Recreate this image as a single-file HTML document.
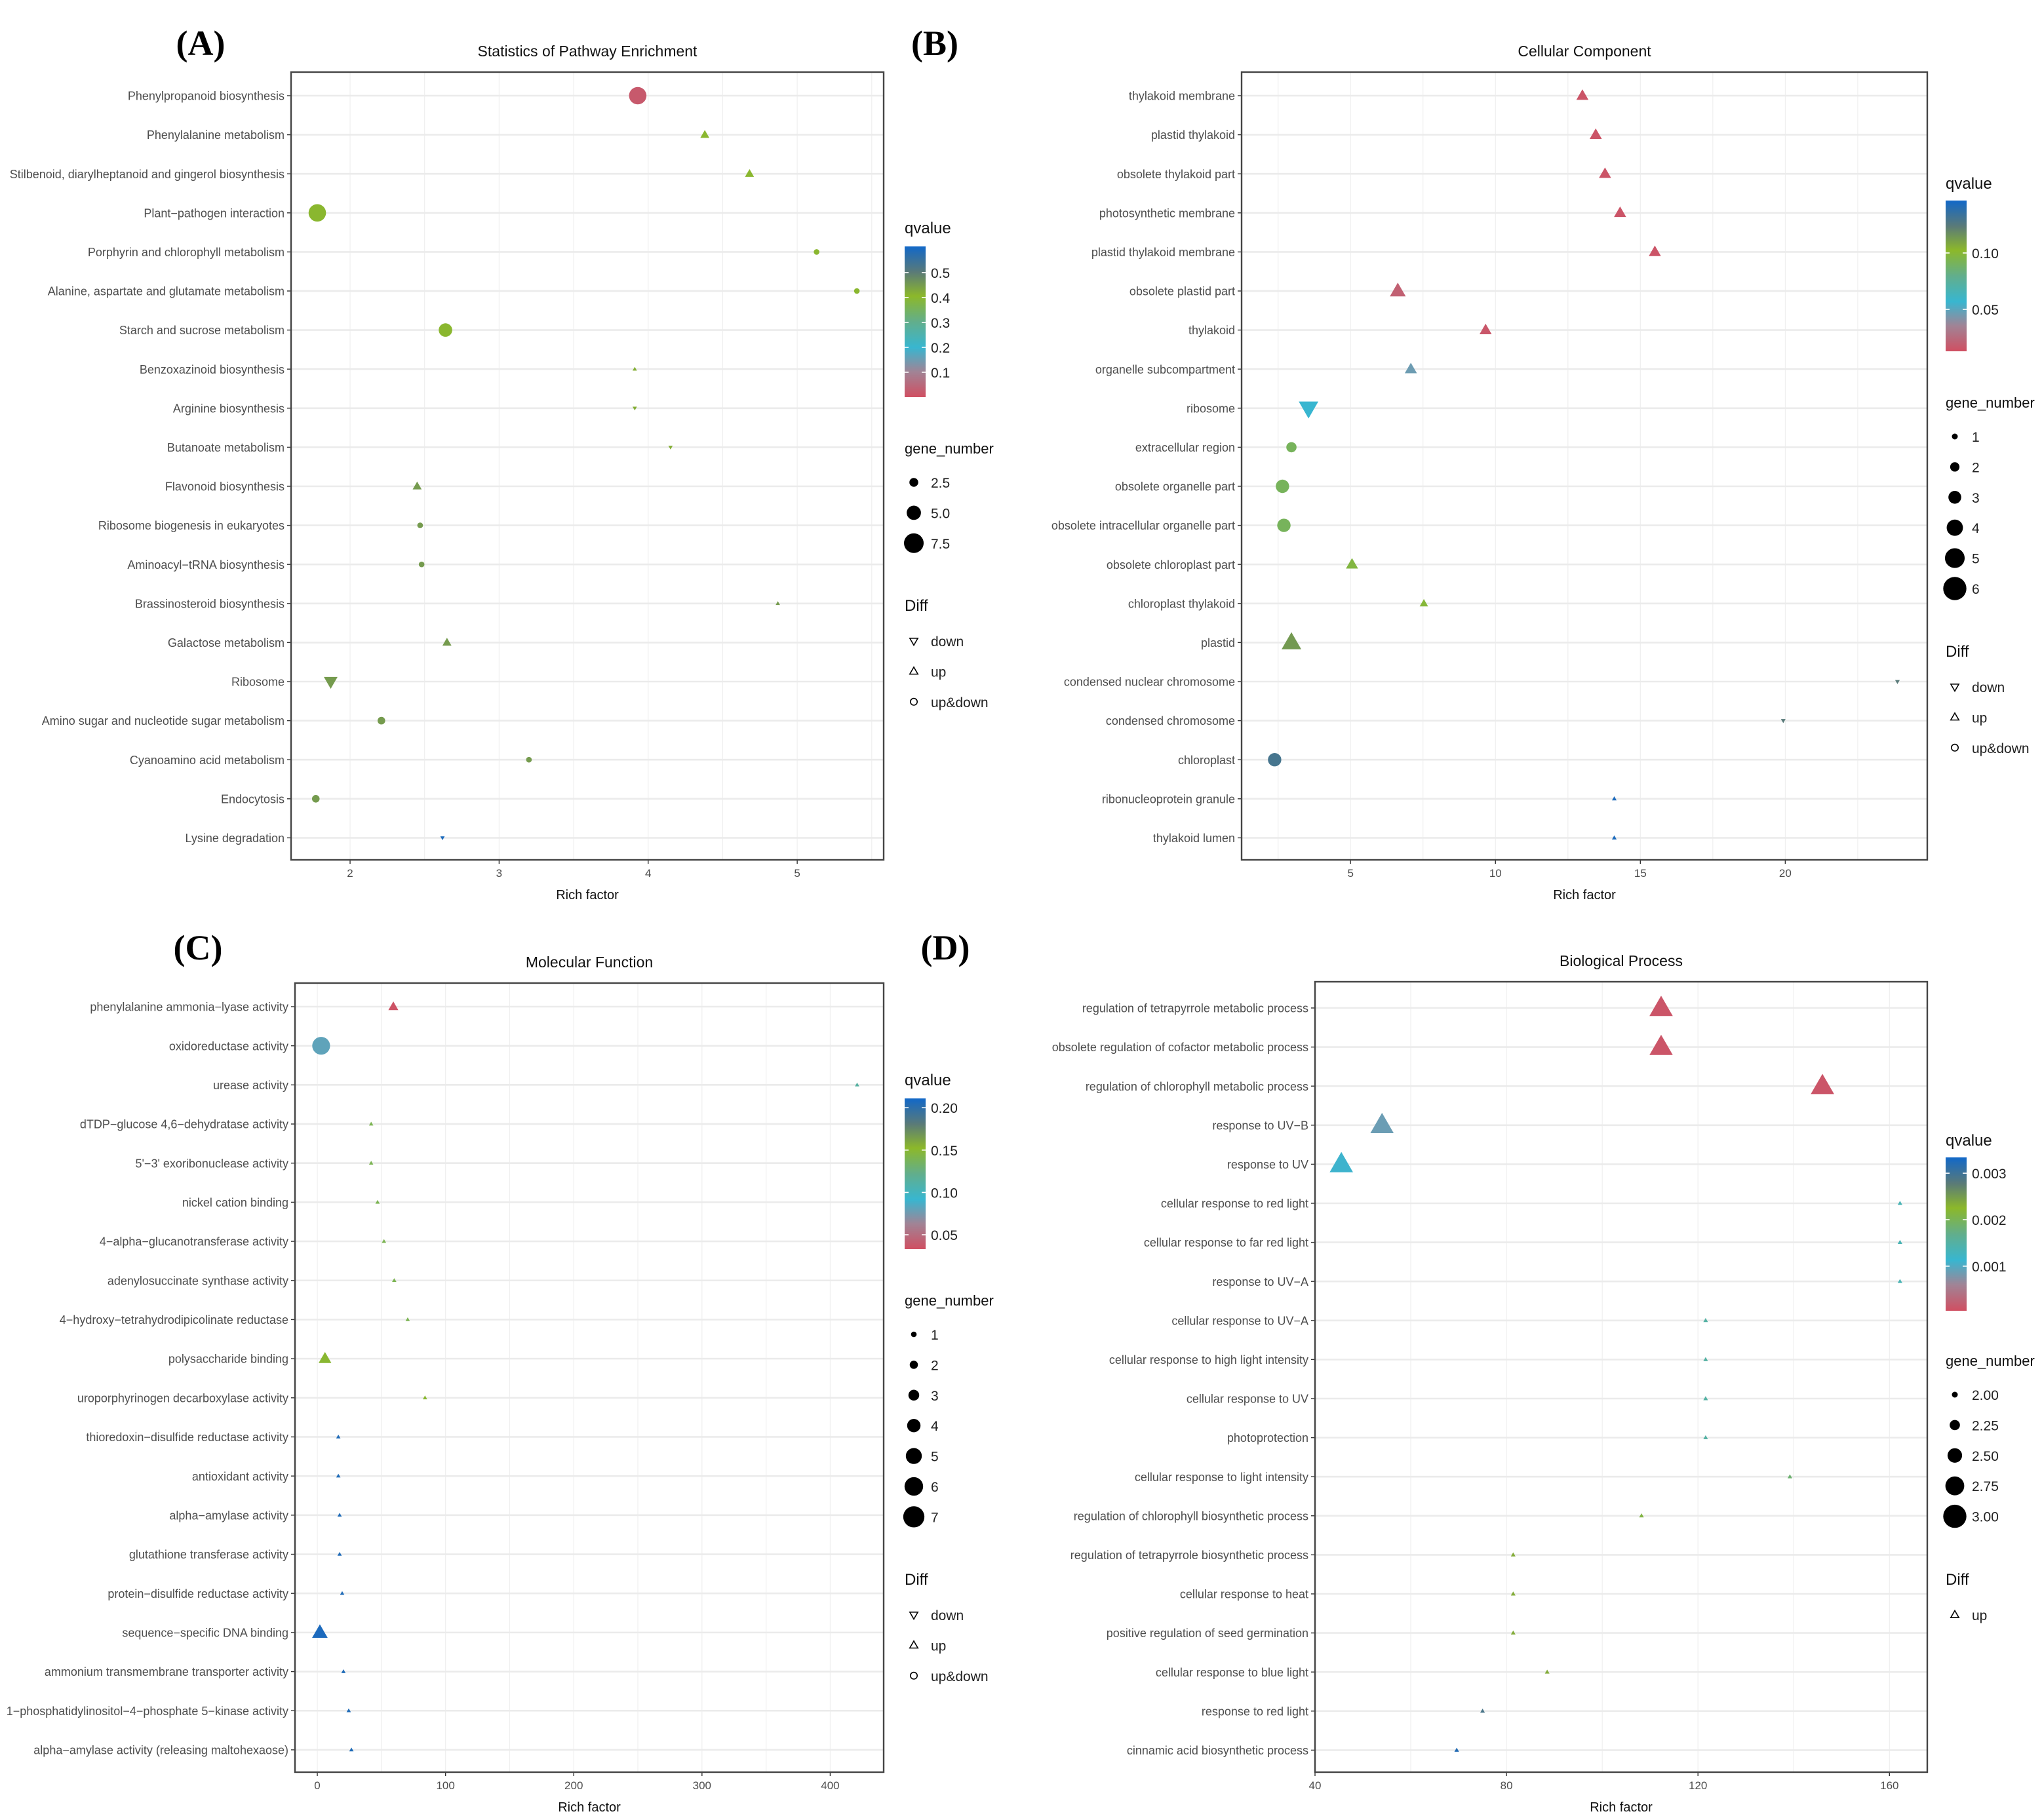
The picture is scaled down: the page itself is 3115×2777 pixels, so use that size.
<!DOCTYPE html>
<html><head><meta charset="utf-8"><style>
html,body{margin:0;padding:0;background:#fff;}
svg{display:block;}
text{font-family:"Liberation Sans Narrow","Liberation Sans",sans-serif;}
</style></head><body>
<svg id="fig" xmlns="http://www.w3.org/2000/svg" width="3115" height="2777" viewBox="0 0 1557.5 1388.5"></svg>
<script>
// ---------- Panel A data ----------
const aTerms=["Phenylpropanoid biosynthesis","Phenylalanine metabolism","Stilbenoid, diarylheptanoid and gingerol biosynthesis","Plant\u2212pathogen interaction","Porphyrin and chlorophyll metabolism","Alanine, aspartate and glutamate metabolism","Starch and sucrose metabolism","Benzoxazinoid biosynthesis","Arginine biosynthesis","Butanoate metabolism","Flavonoid biosynthesis","Ribosome biogenesis in eukaryotes","Aminoacyl\u2212tRNA biosynthesis","Brassinosteroid biosynthesis","Galactose metabolism","Ribosome","Amino sugar and nucleotide sugar metabolism","Cyanoamino acid metabolism","Endocytosis","Lysine degradation"];
const aRich=[3.93,4.38,4.68,1.78,5.13,5.40,2.64,3.91,3.91,4.15,2.45,2.47,2.48,4.87,2.65,1.87,2.21,3.20,1.77,2.62];
const aGenes=[8,3,3,8,2,2,6,1,1,1,3,2,2,1,3,5,3,2,3,1];
const aQ=[0.02,0.40,0.40,0.40,0.40,0.40,0.40,0.42,0.42,0.42,0.45,0.45,0.45,0.45,0.45,0.45,0.45,0.45,0.45,0.59];
const aDiff=["both","up","up","both","both","both","both","up","down","down","up","both","both","up","up","down","both","both","both","down"];
const aXTicks=[2,3,4,5];
const aQTicks=[0.1,0.2,0.3,0.4,0.5];
const aSizeTicks=[2.5,5.0,7.5];
const aDiffLevels=["down","up","up&down"];
// ---------- Panel B data ----------
const bTerms=["thylakoid membrane","plastid thylakoid","obsolete thylakoid part","photosynthetic membrane","plastid thylakoid membrane","obsolete plastid part","thylakoid","organelle subcompartment","ribosome","extracellular region","obsolete organelle part","obsolete intracellular organelle part","obsolete chloroplast part","chloroplast thylakoid","plastid","condensed nuclear chromosome","condensed chromosome","chloroplast","ribonucleoprotein granule","thylakoid lumen"];
const bRich=[13.0,13.46,13.78,14.3,15.5,6.63,9.66,7.08,3.55,2.96,2.65,2.70,5.05,7.53,2.96,23.87,19.93,2.38,14.1,14.1];
const bGenes=[3,3,3,3,3,4,3,3,5,3,4,4,3,2,5,1,1,4,1,1];
const bQ=[0.015,0.015,0.015,0.015,0.015,0.02,0.016,0.046,0.057,0.091,0.091,0.091,0.097,0.099,0.113,0.124,0.124,0.13,0.143,0.143];
const bDiff=["up","up","up","up","up","up","up","up","down","both","both","both","up","up","up","down","down","both","up","up"];
const bXTicks=[5,10,15,20];
const bQTicks=[0.05,0.10];
const bSizeTicks=[1,2,3,4,5,6];
const bDiffLevels=["down","up","up&down"];
// ---------- Panel C data ----------
const cTerms=["phenylalanine ammonia\u2212lyase activity","oxidoreductase activity","urease activity","dTDP\u2212glucose 4,6\u2212dehydratase activity","5'\u22123' exoribonuclease activity","nickel cation binding","4\u2212alpha\u2212glucanotransferase activity","adenylosuccinate synthase activity","4\u2212hydroxy\u2212tetrahydrodipicolinate reductase","polysaccharide binding","uroporphyrinogen decarboxylase activity","thioredoxin\u2212disulfide reductase activity","antioxidant activity","alpha\u2212amylase activity","glutathione transferase activity","protein\u2212disulfide reductase activity","sequence\u2212specific DNA binding","ammonium transmembrane transporter activity","1\u2212phosphatidylinositol\u22124\u2212phosphate 5\u2212kinase activity","alpha\u2212amylase activity (releasing maltohexaose)"];
const cRich=[59.3,3,421,42,42,47,52,60,70.5,6,84,16.4,16.4,17.4,17.4,19.4,2,20.4,24.5,26.6];
const cGenes=[3,7,1,1,1,1,1,1,1,4,1,1,1,1,1,1,5,1,1,1];
const cQ=[0.035,0.081,0.113,0.14,0.14,0.14,0.14,0.14,0.14,0.15,0.15,0.205,0.205,0.205,0.205,0.205,0.207,0.205,0.205,0.205];
const cDiff=["up","both","up","up","up","up","up","up","up","up","up","up","up","up","up","up","up","up","up","up"];
const cXTicks=[0,100,200,300,400];
const cQTicks=[0.05,0.10,0.15,0.20];
const cSizeTicks=[1,2,3,4,5,6,7];
const cDiffLevels=["down","up","up&down"];
// ---------- Panel D data ----------
const dTerms=["regulation of tetrapyrrole metabolic process","obsolete regulation of cofactor metabolic process","regulation of chlorophyll metabolic process","response to UV\u2212B","response to UV","cellular response to red light","cellular response to far red light","response to UV\u2212A","cellular response to UV\u2212A","cellular response to high light intensity","cellular response to UV","photoprotection","cellular response to light intensity","regulation of chlorophyll biosynthetic process","regulation of tetrapyrrole biosynthetic process","cellular response to heat","positive regulation of seed germination","cellular response to blue light","response to red light","cinnamic acid biosynthetic process"];
const dRich=[112.3,112.3,146,54,45.5,162.2,162.2,162.2,121.6,121.6,121.6,121.6,139.2,108.2,81.4,81.4,81.4,88.5,75,69.6];
const dGenes=[3,3,3,3,3,2,2,2,2,2,2,2,2,2,2,2,2,2,2,2];
const dQ=[0.0001,0.0001,0.0001,0.00087,0.0011,0.00136,0.00136,0.00136,0.0015,0.0015,0.0015,0.0015,0.00185,0.0021,0.00235,0.00235,0.00235,0.00235,0.0029,0.0032];
const dDiff=dTerms.map(()=>"up");
const dXTicks=[40,80,120,160];
const dQTicks=[0.001,0.002,0.003];
const dSizeTicks=[2.00,2.25,2.50,2.75,3.00];
const dDiffLevels=["up"];

const NS="http://www.w3.org/2000/svg";
const svg=document.getElementById('fig');
const STOPS=[[0,[208,79,98]],[0.17,[160,132,150]],[0.33,[56,182,208]],[0.5,[98,174,140]],[0.67,[140,184,42]],[0.83,[90,122,120]],[1,[18,104,200]]];
function col(t){t=Math.max(0,Math.min(1,t));for(let i=1;i<STOPS.length;i++){if(t<=STOPS[i][0]){const a=STOPS[i-1],b=STOPS[i];const f=(t-a[0])/(b[0]-a[0]);const c=a[1].map((v,k)=>Math.round(v+(b[1][k]-v)*f));return `rgb(${c.join(',')})`;}}return 'rgb(18,104,200)';}
function el(tag,attrs,parent){const e=document.createElementNS(NS,tag);for(const k in attrs)e.setAttribute(k,attrs[k]);(parent||svg).appendChild(e);return e;}
function txt(s,attrs,parent){const e=el('text',attrs,parent);e.textContent=s;return e;}
function shape(g,kind,x,y,r,fill){
  if(kind==="both"){return el('circle',{cx:x,cy:y,r:r,fill:fill},g);}
  const s=r*1.25;
  if(kind==="up")return el('polygon',{points:`${x},${y-s} ${x-s*0.95},${y+s*0.65} ${x+s*0.95},${y+s*0.65}`,fill:fill},g);
  return el('polygon',{points:`${x},${y+s} ${x-s*0.95},${y-s*0.65} ${x+s*0.95},${y-s*0.65}`,fill:fill},g);
}
function panel(P){
  const g=el('g',{});
  
  
  const xs=v=>P.box[0]+(v-P.xdom[0])/(P.xdom[1]-P.xdom[0])*(P.box[2]-P.box[0]);
  const ys=i=>P.row0+i*P.rowStep;
  const qt=q=>(q-P.qdom[0])/(P.qdom[1]-P.qdom[0]);
  const [L,T,R,B]=P.box;
  const lt=txt(P.letter,{x:P.letterPos[0],y:P.letterPos[1],'text-anchor':'middle','font-size':27,'font-weight':'bold',style:'font-family:"Liberation Serif",serif'},g);
  
  
  const tt=txt(P.title,{x:(L+R)/2,y:T-12,'text-anchor':'middle','font-size':11.5,fill:'#111'},g);
  
  
  el('rect',{x:L,y:T,width:R-L,height:B-T,fill:'#fff'},g);
  const step=P.xticks[1]-P.xticks[0];
  for(let v=P.xticks[0]-step*2;v<=P.xdom[1]+step;v+=step/2){const x=xs(v);if(x>L&&x<R)el('line',{x1:x,x2:x,y1:T,y2:B,stroke:'#efefef','stroke-width':0.6},g);}
  P.terms.forEach((t,i)=>{const y=ys(i);el('line',{x1:L,x2:R,y1:y,y2:y,stroke:'#ebebeb','stroke-width':1.3},g);
    el('line',{x1:L-3,x2:L,y1:y,y2:y,stroke:'#333','stroke-width':0.7},g);
    const lb=txt(t,{x:L-5,y:y+3.3,'text-anchor':'end','font-size':P.lfs,fill:'#4d4d4d'},g);
    
    
  });
  P.xticks.forEach(v=>{const x=xs(v);
    const lb=txt(String(v),{x:x,y:B+13,'text-anchor':'middle','font-size':8.5,fill:'#4d4d4d'},g);
    
    
    el('line',{x1:x,x2:x,y1:B,y2:B+3,stroke:'#333','stroke-width':0.7},g);});
  el('rect',{x:L,y:T,width:R-L,height:B-T,fill:'none',stroke:'#444','stroke-width':1.2},g);
  const xt=txt('Rich factor',{x:(L+R)/2,y:B+30,'text-anchor':'middle','font-size':10,fill:'#111'},g);
  
  
  P.terms.forEach((t,i)=>{const m=shape(g,P.diff[i],xs(P.rich[i]),ys(i),P.size(P.genes[i]),col(qt(P.q[i])));
    
    });
  const lx=P.legX;
  const qtT=txt('qvalue',{x:lx,y:P.qTitleY,'font-size':12,fill:'#111'},g);
  
  
  const gid='grad'+P.letter.replace(/\W/g,'');
  const grd=el('linearGradient',{id:gid,x1:0,y1:1,x2:0,y2:0},g);
  STOPS.forEach(s=>el('stop',{offset:s[0],'stop-color':col(s[0])},grd));
  const [cbT,cbB]=P.cb;
  const cb=el('rect',{x:lx,y:cbT,width:16,height:cbB-cbT,fill:`url(#${gid})`},g);
  
  
  P.qticks.forEach(q=>{const y=cbB-qt(q)*(cbB-cbT);
    el('line',{x1:lx,x2:lx+3,y1:y,y2:y,stroke:'#fff','stroke-width':0.8},g);
    el('line',{x1:lx+13,x2:lx+16,y1:y,y2:y,stroke:'#fff','stroke-width':0.8},g);
    const lb=txt(P.qfmt(q),{x:lx+20,y:y+4,'font-size':10.5,fill:'#222'},g);
    
    });
  const gt=txt('gene_number',{x:lx,y:P.gTitleY,'font-size':11,fill:'#111'},g);
  
  
  P.sizeTicks.forEach((s,i)=>{const y=P.gTitleY+26+i*23.2;
    el('circle',{cx:lx+7,cy:y-4,r:P.size(s)*1.1+0.6,fill:'#000'},g);
    const lb=txt(P.sfmt(s),{x:lx+20,y:y,'font-size':10.5,fill:'#222'},g);
    
    });
  const dt=txt('Diff',{x:lx,y:P.dTitleY,'font-size':12,fill:'#111'},g);
  
  
  P.diffLevels.forEach((d,i)=>{const y=P.dTitleY+27+i*23.2;const k=d==="up&down"?"both":d;
    const m=shape(g,k,lx+7,y-4,2.6,'none');m.setAttribute('stroke','#000');m.setAttribute('stroke-width','0.8');
    const lb=txt(d,{x:lx+20,y:y,'font-size':10.5,fill:'#222'},g);
    
    });
}
panel({name:'panel-a-pathway',letter:'(A)',letterPos:[153,42],title:'Statistics of Pathway Enrichment',box:[222,55,674,656],xdom:[1.604,5.58],row0:73,rowStep:29.8,lfs:9,
 terms:aTerms,rich:aRich,genes:aGenes,q:aQ,diff:aDiff,xticks:aXTicks,qticks:aQTicks,qdom:[0,0.605],qfmt:q=>q.toFixed(1),
 size:n=>1.4+0.75*(n-1),sizeTicks:aSizeTicks,sfmt:s=>s.toFixed(1),diffLevels:aDiffLevels,legX:690,qTitleY:178,cb:[188,303],gTitleY:346,dTitleY:466});
panel({name:'panel-b-cellular-component',letter:'(B)',letterPos:[713,42],title:'Cellular Component',box:[947,55,1470,656],xdom:[1.24,24.9],row0:73,rowStep:29.8,lfs:9,
 terms:bTerms,rich:bRich,genes:bGenes,q:bQ,diff:bDiff,xticks:bXTicks,qticks:bQTicks,qdom:[0.0128,0.1465],qfmt:q=>q.toFixed(2),
 size:n=>1.5+1.2*(n-1),sizeTicks:bSizeTicks,sfmt:s=>String(s),diffLevels:bDiffLevels,legX:1484,qTitleY:144,cb:[153,268],gTitleY:311,dTitleY:501});
panel({name:'panel-c-molecular-function',letter:'(C)',letterPos:[151,732],title:'Molecular Function',box:[225,750,674,1352],xdom:[-17.4,441.7],row0:768,rowStep:29.84,lfs:9,
 terms:cTerms,rich:cRich,genes:cGenes,q:cQ,diff:cDiff,xticks:cXTicks,qticks:cQTicks,qdom:[0.033,0.211],qfmt:q=>q.toFixed(2),
 size:n=>1.4+0.9*(n-1),sizeTicks:cSizeTicks,sfmt:s=>String(s),diffLevels:cDiffLevels,legX:690,qTitleY:828,cb:[838,953],gTitleY:996,dTitleY:1209});
panel({name:'panel-d-biological-process',letter:'(D)',letterPos:[721,732],title:'Biological Process',box:[1003,749,1470,1352],xdom:[40,167.9],row0:769,rowStep:29.8,lfs:9,
 terms:dTerms,rich:dRich,genes:dGenes,q:dQ,diff:dDiff,xticks:dXTicks,qticks:dQTicks,qdom:[0.00004,0.00334],qfmt:q=>q.toFixed(3),
 size:n=>1.5+6*(n-2),sizeTicks:dSizeTicks,sfmt:s=>s.toFixed(2),diffLevels:dDiffLevels,legX:1484,qTitleY:874,cb:[883,1000],gTitleY:1042,dTitleY:1209});
</script>
</body></html>
